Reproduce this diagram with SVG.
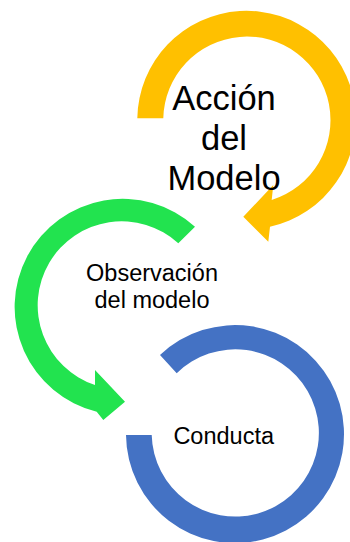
<svg xmlns="http://www.w3.org/2000/svg" width="350" height="542" viewBox="0 0 350 542">
<style>
.lbl{font-family:"Liberation Sans",Arial,sans-serif;fill:#000;text-anchor:middle}
.big{font-size:34.5px}
.mid{font-size:23.5px}
</style>
<rect width="350" height="542" fill="#fff"/>
<g id="node-accion">
<path fill="#FFC000" d="M137.3,118.3 A109.2 109.2 0 1 1 270,226.7 L268.3,241.7 L243.3,216.7 L273.3,185 L271.7,200 A83.6 83.6 0 1 0 163.3,118.3 Z"/>
<text class="lbl big" x="224" y="110">Acción</text>
<text class="lbl big" x="224" y="150">del</text>
<text class="lbl big" x="224" y="190">Modelo</text>
</g>
<g id="node-observacion">
<path fill="#22E34F" d="M195,226.7 A108 108 0 1 0 96.7,411.7 L103.3,420 L125,401.7 L95,370 L95,385 A84 84 0 1 1 178.3,243.3 Z"/>
<text class="lbl mid" x="152" y="280.7">Observación</text>
<text class="lbl mid" x="152" y="308.3">del modelo</text>
</g>
<g id="node-conducta">
<path fill="#4472C4" d="M126,435 A109 109 0 1 0 160,355 L176.7,373.3 A83.6 83.6 0 1 1 151.7,435 Z"/>
<text class="lbl mid" x="223.7" y="444">Conducta</text>
</g>
<g id="connectors"/>
</svg>
